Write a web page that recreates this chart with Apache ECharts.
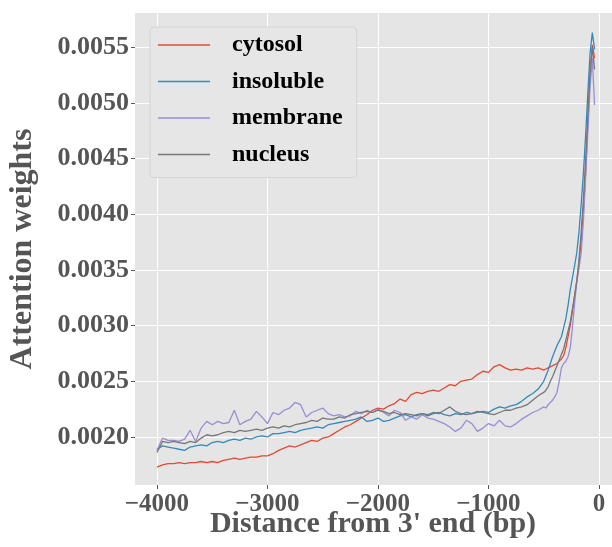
<!DOCTYPE html>
<html>
<head>
<meta charset="utf-8">
<script src="https://cdn.jsdelivr.net/npm/echarts@6/dist/echarts.min.js"></script>
<style>
  html, body { margin: 0; padding: 0; background: #fff; }
  #chart { width: 612px; height: 547px; }
</style>
</head>
<body>
<div id="chart"></div>
<script>
// distance from the 3' end (bp)
const distance = [
  -4000, -3950, -3900, -3850, -3800, -3750, -3700, -3650, -3600, -3550,
  -3500, -3450, -3400, -3350, -3300, -3250, -3200, -3150, -3100, -3050,
  -3000, -2950, -2900, -2850, -2800, -2750, -2700, -2650, -2600, -2550,
  -2500, -2450, -2400, -2350, -2300, -2250, -2200, -2150, -2100, -2050,
  -2000, -1950, -1900, -1850, -1800, -1750, -1700, -1650, -1600, -1550,
  -1500, -1450, -1400, -1350, -1300, -1250, -1200, -1150, -1100, -1050,
  -1000, -950, -900, -850, -800, -750, -700, -650, -600, -550,
  -500, -480, -460, -440, -420, -400, -380, -360, -340, -320,
  -300, -280, -260, -240, -220, -200, -180, -160, -140, -120,
  -100, -80, -60, -40
];

const cytosol = [
  0.00173, 0.00175, 0.00176, 0.00176, 0.00177, 0.00176, 0.00177, 0.00177, 0.00178, 0.00177,
  0.00178, 0.00177, 0.00179, 0.00180, 0.00181, 0.00180, 0.00181, 0.00182, 0.00182, 0.00183,
  0.00183, 0.00185, 0.00188, 0.00190, 0.00192, 0.00191, 0.00193, 0.00195, 0.00197, 0.00196,
  0.00199, 0.00200, 0.00203, 0.00206, 0.00209, 0.00211, 0.00214, 0.00217, 0.00220, 0.00224,
  0.00226, 0.00225, 0.00228, 0.00230, 0.00234, 0.00232, 0.00238, 0.00240, 0.00239, 0.00241,
  0.00242, 0.00241, 0.00244, 0.00247, 0.00246, 0.00250, 0.00251, 0.00252, 0.00256, 0.00259,
  0.00258, 0.00263, 0.00265, 0.00262, 0.00260, 0.00261, 0.00260, 0.00262, 0.00261, 0.00262,
  0.00260, 0.00261, 0.00262, 0.00263, 0.00264, 0.00265, 0.00266, 0.00268, 0.00270, 0.00273,
  0.00280, 0.00290, 0.00300, 0.00313, 0.00327, 0.00341, 0.00356, 0.00378, 0.00405, 0.00438,
  0.00485, 0.00525, 0.00552, 0.00540
];

const insoluble = [
  0.00189, 0.00192, 0.00191, 0.00190, 0.00189, 0.00188, 0.00191, 0.00192, 0.00193, 0.00192,
  0.00195, 0.00196, 0.00195, 0.00197, 0.00198, 0.00197, 0.00199, 0.00198, 0.00200, 0.00201,
  0.00200, 0.00203, 0.00203, 0.00204, 0.00205, 0.00204, 0.00206, 0.00207, 0.00208, 0.00209,
  0.00208, 0.00211, 0.00212, 0.00213, 0.00214, 0.00215, 0.00216, 0.00218, 0.00214, 0.00215,
  0.00217, 0.00214, 0.00215, 0.00217, 0.00219, 0.00220, 0.00218, 0.00220, 0.00221, 0.00219,
  0.00221, 0.00222, 0.00220, 0.00219, 0.00221, 0.00220, 0.00222, 0.00221, 0.00222, 0.00223,
  0.00222, 0.00225, 0.00227, 0.00226, 0.00228, 0.00229, 0.00232, 0.00236, 0.00239, 0.00243,
  0.00250, 0.00255, 0.00260, 0.00266, 0.00272, 0.00277, 0.00282, 0.00286, 0.00290, 0.00298,
  0.00306, 0.00318, 0.00332, 0.00343, 0.00354, 0.00366, 0.00385, 0.00410, 0.00438, 0.00472,
  0.00510, 0.00545, 0.00563, 0.00548
];

const membrane = [
  0.00188, 0.00199, 0.00197, 0.00197, 0.00196, 0.00198, 0.00206, 0.00196, 0.00208, 0.00214,
  0.00211, 0.00214, 0.00212, 0.00213, 0.00224, 0.00211, 0.00214, 0.00216, 0.00223, 0.00218,
  0.00212, 0.00222, 0.00220, 0.00224, 0.00226, 0.00231, 0.00229, 0.00218, 0.00222, 0.00224,
  0.00226, 0.00221, 0.00219, 0.00220, 0.00218, 0.00219, 0.00223, 0.00221, 0.00224, 0.00222,
  0.00225, 0.00222, 0.00219, 0.00224, 0.00222, 0.00215, 0.00218, 0.00216, 0.00220, 0.00217,
  0.00216, 0.00214, 0.00212, 0.00209, 0.00205, 0.00208, 0.00215, 0.00212, 0.00205, 0.00208,
  0.00212, 0.00210, 0.00215, 0.00210, 0.00209, 0.00212, 0.00216, 0.00219, 0.00222, 0.00224,
  0.00227, 0.00226, 0.00229, 0.00231, 0.00233, 0.00236, 0.00240, 0.00250, 0.00262, 0.00266,
  0.00268, 0.00272, 0.00280, 0.00298, 0.00320, 0.00340, 0.00352, 0.00366, 0.00395, 0.00435,
  0.00475, 0.00515, 0.00540, 0.00498
];

const nucleus = [
  0.00186, 0.00196, 0.00195, 0.00196, 0.00195, 0.00194, 0.00196, 0.00195, 0.00199, 0.00202,
  0.00201, 0.00202, 0.00204, 0.00205, 0.00204, 0.00206, 0.00205, 0.00206, 0.00207, 0.00206,
  0.00208, 0.00209, 0.00208, 0.00210, 0.00209, 0.00211, 0.00212, 0.00213, 0.00215, 0.00214,
  0.00217, 0.00216, 0.00216, 0.00218, 0.00217, 0.00220, 0.00221, 0.00222, 0.00223, 0.00222,
  0.00224, 0.00223, 0.00221, 0.00222, 0.00220, 0.00221, 0.00220, 0.00219, 0.00221, 0.00220,
  0.00222, 0.00221, 0.00224, 0.00227, 0.00223, 0.00221, 0.00220, 0.00221, 0.00223, 0.00222,
  0.00221, 0.00220, 0.00222, 0.00224, 0.00224, 0.00226, 0.00227, 0.00229, 0.00233, 0.00237,
  0.00240, 0.00242, 0.00245, 0.00250, 0.00254, 0.00259, 0.00264, 0.00269, 0.00274, 0.00279,
  0.00287, 0.00295, 0.00303, 0.00315, 0.00327, 0.00340, 0.00360, 0.00385, 0.00415, 0.00450,
  0.00490, 0.00528, 0.00550, 0.00530
];

const xTicks = [-4000, -3000, -2000, -1000, 0];
const yTicks = [0.0020, 0.0025, 0.0030, 0.0035, 0.0040, 0.0045, 0.0050, 0.0055];

const names = ['cytosol', 'insoluble', 'membrane', 'nucleus'];
const colors = ['#E24A33', '#348ABD', '#988ED5', '#777777'];
const values = [cytosol, insoluble, membrane, nucleus];

const font = '"Liberation Serif", "Times New Roman", serif';

const chart = echarts.init(document.getElementById('chart'), null, { renderer: 'canvas' });

chart.setOption({
  animation: false,
  backgroundColor: '#ffffff',
  grid: {
    left: 135, right: 0, top: 13, bottom: 62,
    outerBoundsMode: 'none',
    containLabel: false,
    show: true, backgroundColor: '#E5E5E5', borderWidth: 0
  },
  legend: {
    orient: 'vertical',
    left: 150, top: 27,
    padding: [6, 14, 11, 8],
    itemGap: 12.5,
    itemWidth: 52, itemHeight: 1.6,
    icon: 'rect',
    selectedMode: false,
    backgroundColor: '#E6E6E6',
    borderColor: '#D4D4D4', borderWidth: 1, borderRadius: 4,
    textStyle: {
      fontFamily: font, fontWeight: 'bold', fontSize: 24, color: '#000',
      padding: [0, 0, 0, 17]
    },
    data: names
  },
  graphic: [{
    type: 'text',
    x: 373, y: 524,
    style: {
      text: 'Distance from 3\' end (bp)',
      font: 'bold 30px ' + font,
      fill: '#555555',
      align: 'center', verticalAlign: 'middle'
    }
  }],
  xAxis: {
    type: 'value',
    position: 'bottom',
    min: -4199, max: 118,
    axisLine: { show: false, onZero: false },
    axisTick: { show: true, length: 4, lineStyle: { color: '#555555' }, customValues: xTicks },
    axisLabel: {
      customValues: xTicks, margin: 7,
      fontFamily: font, fontWeight: 'bold', fontSize: 25, color: '#555555',
      formatter: v => String(v).replace('-', '\u2212')
    },
    splitLine: { show: true, lineStyle: { color: '#ffffff', width: 1 } }
  },
  yAxis: {
    type: 'value',
    position: 'left',
    min: 0.001569, max: 0.005806,
    name: 'Attention weights',
    nameLocation: 'middle', nameGap: 96, nameRotate: 90,
    nameTextStyle: { fontFamily: font, fontWeight: 'bold', fontSize: 32, color: '#555555' },
    axisLine: { show: false, onZero: false },
    axisTick: { show: true, length: 4, lineStyle: { color: '#555555' }, customValues: yTicks },
    axisLabel: {
      customValues: yTicks, margin: 6,
      fontFamily: font, fontWeight: 'bold', fontSize: 26, color: '#555555',
      formatter: v => v.toFixed(4)
    },
    splitLine: { show: true, lineStyle: { color: '#ffffff', width: 1 } }
  },
  series: names.map((n, i) => ({
    name: n,
    type: 'line',
    showSymbol: false,
    symbol: 'none',
    color: colors[i],
    lineStyle: { width: 1.3, color: colors[i] },
    data: distance.map((d, j) => [d, values[i][j]])
  }))
});
</script>
</body>
</html>
